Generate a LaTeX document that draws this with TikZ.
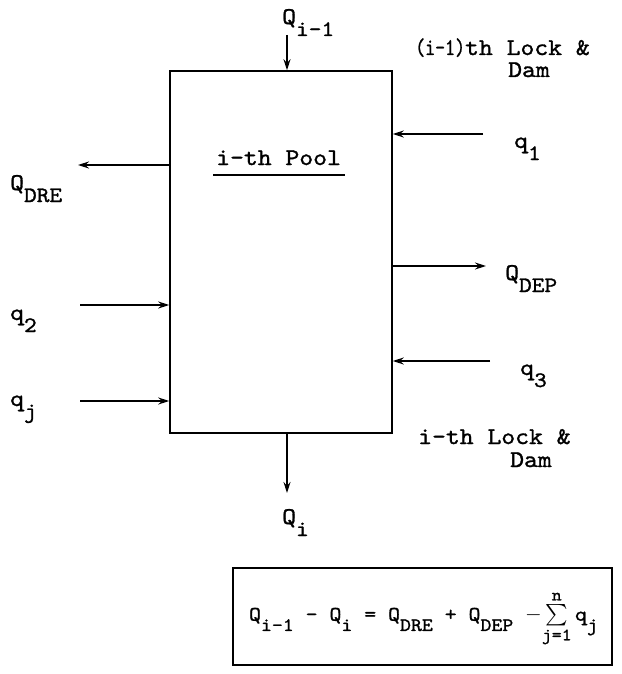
\documentclass[tikz,border=0pt]{standalone}
\usepackage{amsmath}
\usepackage{fontspec}
\newfontfamily\tw{lmmono10-regular.otf}[FakeStretch=1.1,FakeBold=1.2]
\usetikzlibrary{arrows.meta}
\newcommand\lowsub[1]{\raisebox{-0.5em}{\fontsize{22}{24}\selectfont #1}}
\begin{document}
\begin{tikzpicture}[x=1pt,y=-1pt,
  font=\tw\fontsize{24}{28}\selectfont,
  arr/.style={-{Stealth[length=11pt,width=7pt]}, line width=1.3pt},
  lbl/.style={inner sep=0pt, anchor=base west}]
\useasboundingbox (0,0) rectangle (621,674);
% pool box
\node[draw, line width=1.5pt, minimum width=222pt, minimum height=362pt, inner sep=0pt] (pool) at (281,252) {};
% labels
\node[lbl] (Qim1) at (282,24) {Q\lowsub{i-1}};
\node[lbl] (lockA) at (415,55) {\scalebox{0.72}[1]{(i-1)}th Lock \&};
\node[lbl] (damA) at (508,77) {Dam};
\node[lbl] (QDRE) at (10,190) {Q\lowsub{DRE}};
\node[lbl] (title) at (216,165) {i-th Pool};
\draw[line width=1.1pt] (title.base west) ++(-3,10) coordinate (ul1) -- ++(132,0) coordinate (ul2);
\node[lbl] (q1) at (514,148) {q\lowsub{1}};
\node[lbl] (QDEP) at (505,280) {Q\lowsub{DEP}};
\node[lbl] (q3) at (520,375) {q\lowsub{3}};
\node[lbl] (q2) at (10,320) {q\lowsub{2}};
\node[lbl] (qj) at (10,406) {q\lowsub{j}};
\node[lbl] (lockB) at (418,444) {i-th Lock \&};
\node[lbl] (damB) at (510,467) {Dam};
\node[lbl] (Qi) at (282,524) {Q\lowsub{i}};
% arrow ends
\coordinate (topin) at (287,35);
\coordinate (drep) at (78,165);
\coordinate (q1p) at (483,134);
\coordinate (depp) at (486,266);
\coordinate (q3p) at (490,361);
\coordinate (q2p) at (80,305);
\coordinate (qjp) at (80,401);
\coordinate (botp) at (287,493);
% connectors
\draw[arr] (topin) -- (topin |- pool.north);
\draw[arr] (drep -| pool.west) -- (drep);
\draw[arr] (q1p) -- (q1p -| pool.east);
\draw[arr] (depp -| pool.east) -- (depp);
\draw[arr] (q3p) -- (q3p -| pool.east);
\draw[arr] (q2p) -- (q2p -| pool.west);
\draw[arr] (qjp) -- (qjp -| pool.west);
\draw[arr] (botp |- pool.south) -- (botp);
% equation
\node[draw, line width=1.3pt, minimum width=379pt, minimum height=97pt, inner sep=0pt] (eqbox) at (422.5,616.5) {};
\node[inner sep=0pt] (eq) at ([xshift=1pt,yshift=-2pt]eqbox.center) {\scalebox{0.86}{Q\lowsub{i-1} - Q\lowsub{i} = Q\lowsub{DRE} + Q\lowsub{DEP} $-\!\sum\limits_{\text{\fontsize{20}{22}\selectfont j=1}}^{\text{\fontsize{20}{22}\selectfont n}}$\,q\lowsub{j}}};
\end{tikzpicture}
\end{document}
